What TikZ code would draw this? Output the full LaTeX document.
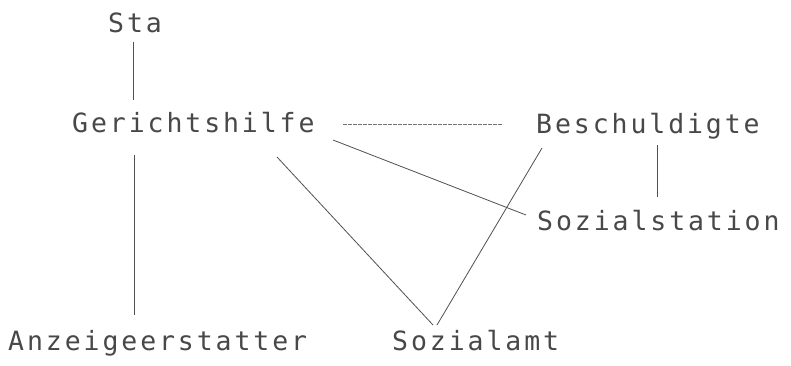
\documentclass[tikz,border=0pt]{standalone}
\usepackage{fontspec}
\newfontfamily\typewriter[LetterSpace=11]{DejaVu Sans Mono}
\definecolor{ink}{HTML}{484848}
\definecolor{lineink}{HTML}{505050}
\begin{document}
\begin{tikzpicture}[x=1pt,y=1pt,
  label/.style={anchor=base west,inner sep=0pt,text=ink,font=\typewriter\fontsize{26.5}{30}\selectfont},
  link/.style={draw=lineink,line width=0.8pt},
  dashlink/.style={draw=lineink!80,line width=0.7pt,dash pattern=on 4pt off 1pt}]
\fill[white] (0,0) rectangle (791,365);
\useasboundingbox (0,0) rectangle (791,365);
\node[label] (sta)    at (108,332) {Sta};
\node[label] (ger)    at (72,233)  {Gerichtshilfe};
\node[label] (besch)  at (536,232) {Beschuldigte};
\node[label] (sozst)  at (537,135) {Sozialstation};
\node[label] (anz)    at (8,15)    {Anzeigeerstatter};
\node[label] (sozamt) at (392,15)  {Sozialamt};
\draw[link] ([shift={(25,-9)}]sta.base west) -- ([shift={(61,32)}]ger.base west);
\draw[link] ([shift={(62,-23)}]ger.base west) -- ([shift={(126,35)}]anz.base west);
\draw[dashlink] ([shift={(271,8)}]ger.base west) -- ([shift={(-33,9)}]besch.base west);
\draw[link] ([shift={(205,-25)}]ger.base west) -- ([shift={(41,25)}]sozamt.base west);
\draw[link] ([shift={(261,-8)}]ger.base west) -- ([shift={(-11,15)}]sozst.base west);
\draw[link] ([shift={(6,-15)}]besch.base west) -- ([shift={(45,25)}]sozamt.base west);
\draw[link] ([shift={(121,-12)}]besch.base west) -- ([shift={(120,33)}]sozst.base west);
\end{tikzpicture}
\end{document}
